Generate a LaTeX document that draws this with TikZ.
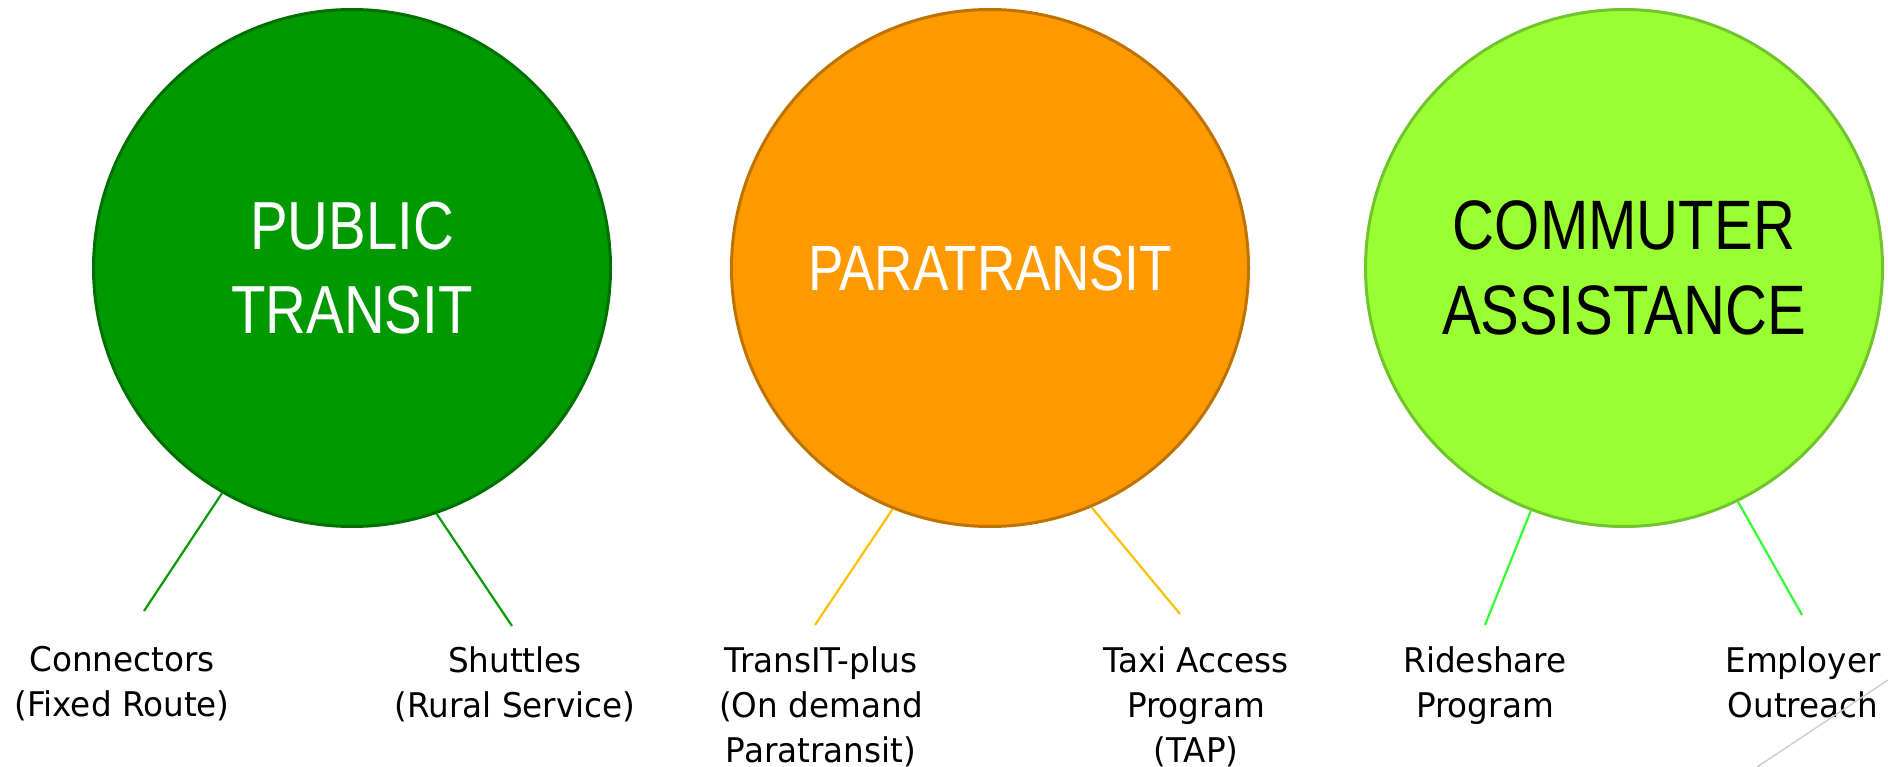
\documentclass[tikz,border=0pt]{standalone}
\usepackage{fontspec}
\newfontfamily\titlefont[FakeStretch=0.83]{Liberation Sans}
\newfontfamily\labelfont[FakeStretch=0.96]{DejaVu Sans}
\definecolor{gfill}{RGB}{0,153,0}
\definecolor{gedge}{RGB}{0,112,0}
\definecolor{gline}{RGB}{10,154,10}
\definecolor{ofill}{RGB}{255,153,0}
\definecolor{oedge}{RGB}{190,115,0}
\definecolor{oline}{RGB}{255,192,0}
\definecolor{lfill}{RGB}{153,255,51}
\definecolor{ledge}{RGB}{112,196,44}
\definecolor{lline}{RGB}{51,255,51}
\definecolor{corner}{RGB}{208,208,208}
\begin{document}
\begin{tikzpicture}[x=1pt,y=-1pt,
  hub/.style={circle, inner sep=0pt, minimum size=517pt, line width=3pt, align=center,
              font=\titlefont\fontsize{68}{84}\selectfont},
  leaf/.style={anchor=north, inner sep=0pt, align=center,
               font=\labelfont\fontsize{34}{45}\selectfont},
  spoke/.style={line width=2.2pt}]
\useasboundingbox (0,0) rectangle (1888,767);

% hubs
\node[hub, fill=gfill, draw=gedge, text=white] (pt) at (352,268) {PUBLIC\\TRANSIT};
\node[hub, fill=ofill, draw=oedge, text=white, font=\titlefont\fontsize{64}{84}\selectfont] (pa) at (990,268) {PARATRANSIT};
\node[hub, fill=lfill, draw=ledge, text=black, font=\titlefont\fontsize{70}{85}\selectfont] (ca) at (1624,268) {COMMUTER\\ASSISTANCE};

% labels
\node[leaf] (con) at (122,646) {Connectors\\(Fixed Route)};
\node[leaf] (shu) at (515,646) {Shuttles\\(Rural Service)};
\node[leaf] (tip) at (821,646) {TransIT-plus\\(On demand\\Paratransit)};
\node[leaf] (tap) at (1196,646) {Taxi Access\\Program\\(TAP)};
\node[leaf] (rsp) at (1485,646) {Rideshare\\Program};
\node[leaf] (emp) at (1803,646) {Employer\\Outreach};

% spoke ends
\coordinate (e1) at (144,611);
\coordinate (e2) at (512,626);
\coordinate (e3) at (815,625);
\coordinate (e4) at (1180,614);
\coordinate (e5) at (1485,625);
\coordinate (e6) at (1802,615);

\draw[spoke, draw=gline] (pt.240.5) -- (e1);
\draw[spoke, draw=gline] (pt.289.5) -- (e2);
\draw[spoke, draw=oline] (pa.248) -- (e3);
\draw[spoke, draw=oline] (pa.293) -- (e4);
\draw[spoke, draw=lline] (ca.249) -- (e5);
\draw[spoke, draw=lline] (ca.296) -- (e6);

% decorative corner line
\draw[corner, line width=1.5pt] (1757,767) -- (1888,680);
\end{tikzpicture}
\end{document}
